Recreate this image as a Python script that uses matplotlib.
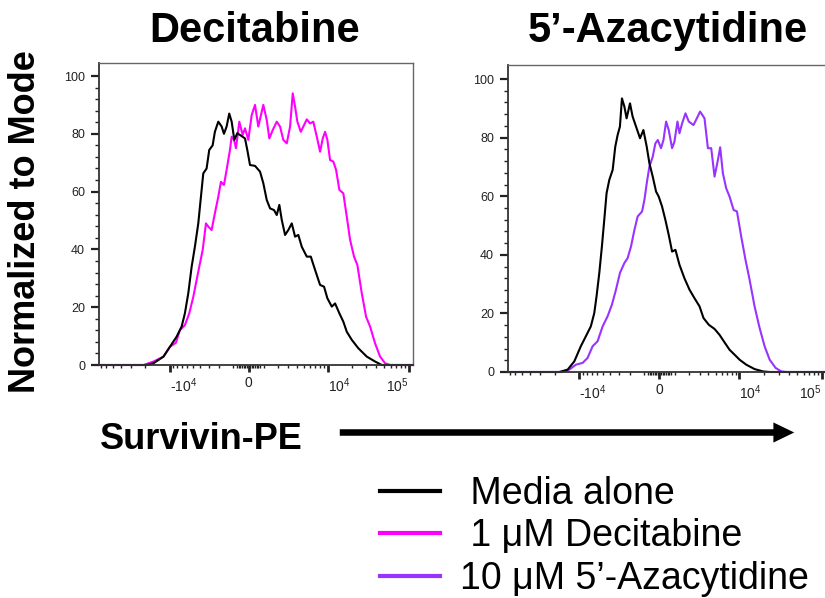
import matplotlib
matplotlib.use("Agg")
import matplotlib.pyplot as plt
from matplotlib.lines import Line2D
from matplotlib.patches import FancyArrowPatch
from matplotlib.ticker import FixedLocator, NullFormatter

plt.rcParams['font.family'] = ['Liberation Sans', 'DejaVu Sans']
plt.rcParams['mathtext.fontset'] = 'custom'
plt.rcParams['mathtext.rm'] = 'Liberation Sans'
plt.rcParams['mathtext.default'] = 'regular'

# Survivin-PE intensity (x) vs % of mode (y)
dec_media_x = [-73300, -19200, -15800, -11880, -9880, -8140, -7030, -6380, -5770, -5210,
               -4710, -4240, -3940, -3610, -3230, -2950, -2610, -2400, -2100, -1820,
               -1640, -1440, -1250, -1080, -900, -705, -425, -217, -74, 93,
               405, 725, 942, 1177, 1414, 1716, 1935, 2153, 2368, 2678,
               3006, 3382, 3771, 4186, 4666, 5439, 6136, 6968, 8067, 9049,
               9961, 11306, 12422, 14029, 15701, 17322, 19955, 23996, 30463, 38478,
               46464, 111700]
dec_media_y = [0, 0, 0.6, 2.9, 6.3, 9.8, 13.3, 17.9, 24.8, 34,
               41, 49, 57, 66.3, 68, 74.4, 76, 80.7, 84.2, 82.5,
               80, 82.5, 87, 84.2, 77.9, 80.2, 79.2, 78.4, 74.4, 69.2,
               68.9, 66.9, 62.9, 57.1, 54.2, 53.6, 51.9, 55.4, 50.2, 45,
               46.7, 49, 44.4, 45, 40.9, 37.5, 37.5, 32.9, 27.7, 27.1,
               23.1, 20.2, 21.3, 17.9, 15, 11.5, 8.7, 5.8, 2.9, 1.2,
               0, 0]

dec_drug_x = [-73300, -20950, -15790, -11880, -9880, -8310, -7390, -6380, -5600, -4950,
              -4470, -4020, -3680, -3300, -3050, -2710, -2400, -2100, -1880, -1640,
              -1440, -1200, -1080, -920, -790, -575, -360, -217, -12, 198,
              405, 613, 942, 1177, 1362, 1615, 1935, 2215, 2511, 2847,
              3193, 3494, 3771, 4060, 4524, 5003, 5439, 6007, 6615, 7326,
              8067, 8718, 9325, 9961, 10767, 11813, 12786, 14029, 15701, 17322,
              19016, 21266, 23361, 26460, 29875, 33426, 38478, 44289, 50976, 58671,
              111700]
dec_drug_y = [0, 0, 1.2, 2.9, 6.3, 7.7, 12.1, 13.8, 17.9, 23.6,
              29.4, 35.2, 39.8, 49, 47.9, 46.7, 52.5, 58.2, 63.4, 62.3,
              67.5, 74.4, 79, 77.9, 75, 84.2, 79.6, 81.9, 77.9, 86.5,
              90, 82.5, 90, 84.8, 78.4, 81.3, 84.2, 82.5, 77.9, 76.7,
              82.5, 94, 89.4, 84.2, 80.7, 83, 85, 83.6, 84.2, 79,
              73.8, 78.4, 80.7, 77.9, 70.9, 70.4, 67.5, 60.6, 59.4, 51.3,
              43.3, 37.5, 34.6, 24.8, 16.7, 13.3, 7.5, 2.9, 0.6, 0,
              0]

aza_media_x = [-73300, -17660, -13950, -11560, -9600, -8310, -7200, -6520, -6100, -5620,
               -5200, -4840, -4510, -4140, -3720, -3420, -3160, -2920, -2720, -2490,
               -2290, -2000, -1790, -1530, -1240, -1010, -790, -620, -410, -205,
               -43, 161, 367, 575, 790, 1011, 1288, 1653, 2057, 2493,
               2986, 3416, 4060, 4837, 5617, 6523, 7537, 8718, 10043, 12131,
               15325, 19402, 23361, 111700]
aza_media_y = [0, 0, 0.8, 3.6, 8.8, 12.2, 15.6, 20.1, 25.8, 33.8,
               42.8, 51.9, 61, 65.6, 69, 76.9, 80.9, 83.8, 93.4, 90.6,
               86.6, 91.7, 87.2, 83.8, 79.8, 82.6, 76.9, 71.3, 66.7, 61.6,
               59.9, 56.5, 51.9, 46.8, 41.1, 41.7, 36.6, 32, 28.1, 25.2,
               22.4, 18.4, 16.1, 14.7, 12.7, 10.1, 7.6, 5.9, 4.2, 2.5,
               1.0, 0.2, 0, 0]

aza_drug_x = [-73300, -16070, -13330, -11050, -9130, -7920, -6840, -5910, -5080, -4370,
              -3810, -3340, -2920, -2490, -2200, -1920, -1650, -1410, -1100, -940,
              -790, -620, -410, -248, -99, 99, 248, 411, 575, 790,
              942, 1149, 1288, 1481, 1732, 1999, 2404, 2718, 3048, 3527,
              3935, 4367, 4837, 5358, 5730, 6209, 6842, 7537, 8477, 9325,
              10514, 11876, 13331, 15325, 17659, 20286, 23361, 27556, 32265, 37032,
              111700]
aza_drug_y = [0, 0, 0.8, 2.5, 3.1, 4.8, 8.8, 10.5, 15.6, 19,
              23, 28.1, 33.8, 37.2, 38.9, 42.8, 48.5, 53.1, 54.8, 58.8,
              64.4, 70.1, 73.5, 78, 79.2, 76.4, 79.2, 85.5, 82.6, 76.4,
              78.6, 85.5, 81.5, 84.9, 88.3, 85.5, 84.3, 86.6, 88.9, 86.6,
              76.4, 76.4, 66.7, 72.4, 76.7, 67.8, 62.7, 59.9, 55.3, 54.8,
              46.3, 38.3, 31.5, 22.4, 15, 8.8, 4.2, 1.4, 0.2, 0,
              0]

x_major = [-1e4, 0, 1e4, 1e5]
x_labels = ['-10$^{4}$', '0', '10$^{4}$', '10$^{5}$']
legend_labels = [' Media alone', ' 1 \u03bcM Decitabine', '10 \u03bcM 5\u2019-Azacytidine']
colors = ['#000000', '#FF00FF', '#9933FF']

x_minor = ([-k * 1e4 for k in range(2, 8)] + [-k * 1e3 for k in range(1, 10)]
           + [k * 100 for k in range(-7, 8) if k != 0]
           + [k * 1e3 for k in range(1, 10)] + [k * 1e4 for k in range(2, 10)])


def style_axes(ax, ytop):
    ax.set_xscale('asinh', linear_width=2200)
    ax.set_xlim(-73300, 111700)
    ax.set_ylim(0, ytop)
    ax.set_xticks(x_major, labels=x_labels)
    ax.xaxis.set_minor_locator(FixedLocator(x_minor))
    ax.xaxis.set_minor_formatter(NullFormatter())
    ax.set_yticks([0, 20, 40, 60, 80, 100])
    ax.yaxis.set_minor_locator(FixedLocator([v for v in range(4, 100, 4) if v % 20]))
    ax.tick_params(axis='x', which='major', length=5, width=2, pad=3, labelsize=10,
                   colors='#222222')
    ax.tick_params(axis='x', which='minor', length=2.5, width=1, colors='#222222')
    ax.tick_params(axis='y', which='major', length=6, width=1.6, pad=4, labelsize=9,
                   colors='#222222')
    ax.tick_params(axis='y', which='minor', length=3, width=1, colors='#222222')
    for lbl, ha in zip(ax.get_xticklabels(), ['left', 'center', 'left', 'right']):
        lbl.set_horizontalalignment(ha)
    for side in ['left', 'bottom']:
        ax.spines[side].set_color('#333333')
        ax.spines[side].set_linewidth(1.3)
    for side in ['top', 'right']:
        ax.spines[side].set_color('#666666')
        ax.spines[side].set_linewidth(1.0)


fig = plt.figure(figsize=(8.25, 5.98), dpi=100)
ax1 = fig.add_axes([99 / 825, 233 / 598, 314 / 825, 302 / 598])
ax2 = fig.add_axes([508 / 825, 226 / 598, 318 / 825, 307 / 598])

ax1.plot(dec_drug_x, dec_drug_y, color=colors[1], lw=1.5, clip_on=False)
ax1.plot(dec_media_x, dec_media_y, color=colors[0], lw=1.5, clip_on=False)
style_axes(ax1, 104.5)

ax2.plot(aza_drug_x, aza_drug_y, color=colors[2], lw=1.5, clip_on=False)
ax2.plot(aza_media_x, aza_media_y, color=colors[0], lw=1.5, clip_on=False)
style_axes(ax2, 104.8)

fig.text(255 / 825, 1 - 42 / 598, 'Decitabine', ha='center', va='baseline',
         fontsize=30, fontweight='bold')
fig.text(668 / 825, 1 - 42 / 598, '5\u2019-Azacytidine', ha='center', va='baseline',
         fontsize=30, fontweight='bold')
fig.text(26 / 825, 1 - 222 / 598, 'Normalized to Mode', rotation=90, ha='center',
         va='center', fontsize=26, fontweight='bold')
fig.text(100 / 825, 1 - 449 / 598, 'Survivin-PE', ha='left', va='baseline',
         fontsize=26, fontweight='bold')

arrow = FancyArrowPatch((337 / 825, 165.5 / 598), (797 / 825, 165.5 / 598),
                        transform=fig.transFigure,
                        arrowstyle='simple,head_length=1.5,head_width=1.45,tail_width=0.47',
                        mutation_scale=10, color='black', lw=0)
fig.patches.append(arrow)

handles = [Line2D([], [], color=c, lw=3) for c in colors]
fig.legend(handles, legend_labels, loc='upper left', bbox_to_anchor=(380 / 825, 1 - 476 / 598),
           frameon=False, fontsize=27, handlelength=1.6, handletextpad=0.53,
           labelspacing=0.17, borderpad=0, borderaxespad=0)

fig.savefig('out.png', dpi=100)
